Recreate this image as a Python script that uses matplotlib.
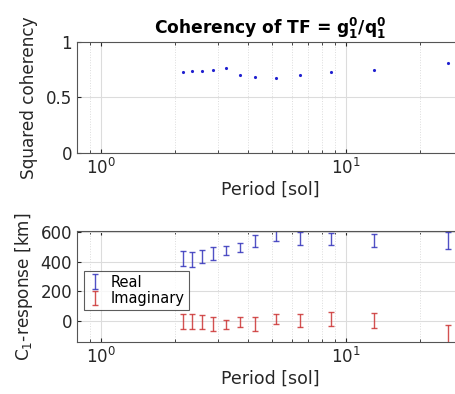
import matplotlib
matplotlib.use("Agg")
import matplotlib.pyplot as plt
import numpy as np

periods = [2.16, 2.36, 2.59, 2.88, 3.24, 3.70, 4.27, 5.19, 6.50, 8.67, 13.0, 26.0]
coherency = [0.73, 0.74, 0.74, 0.75, 0.77, 0.70, 0.685, 0.675, 0.707, 0.733, 0.752, 0.808]
real_vals = [420, 412, 435, 455, 475, 495, 535, 575, 555, 550, 540, 540]
real_err = [50, 50, 45, 45, 30, 30, 40, 35, 45, 40, 45, 55]
imag_vals = [0, -5, -5, -20, -25, -5, -20, 15, 5, 15, 5, -85]
imag_err = [50, 50, 45, 45, 30, 35, 45, 35, 45, 45, 50, 60]

plt.rcParams['font.family'] = ['DejaVu Sans']
fig = plt.figure(figsize=(4.56, 3.94), dpi=100)

axc = '#262626'
def style(ax):
    ax.set_xscale('log')
    ax.set_xlim(0.8, 30)
    ax.grid(True, which='major', color='#dcdcdc', linewidth=0.8)
    ax.grid(True, which='minor', axis='x', color='#dcdcdc', linestyle=':', linewidth=0.7)
    ax.set_axisbelow(True)
    ax.tick_params(which='both', direction='in', labelsize=12, colors=axc, top=True, right=True)
    ax.tick_params(which='major', length=3)
    ax.tick_params(which='minor', length=2)
    for s in ax.spines.values():
        s.set_color('#555555')
        s.set_linewidth(0.8)
    ax.set_xlabel('Period [sol]', fontsize=12.5, color=axc, labelpad=2)

ax1 = fig.add_axes([0.1689, 0.6117, 0.8465, 0.2817])
style(ax1)
ax1.plot(periods, coherency, linestyle='none', marker='.', markersize=2.5, color='#2020d0')
ax1.set_ylim(0, 1)
ax1.set_yticks([0, 0.5, 1])
ax1.set_yticklabels(['0', '0.5', '1'])
ax1.set_ylabel('Squared coherency', fontsize=12.2, color=axc, labelpad=6)
ax1.set_title(r'Coherency of TF = $\mathbf{g_1^0/q_1^0}$', fontsize=12.3, fontweight='bold', color='black')

ax2 = fig.add_axes([0.1689, 0.132, 0.8465, 0.2817])
style(ax2)
ax2.errorbar(periods, real_vals, yerr=real_err, fmt='none', ecolor='#3333bb', elinewidth=1.0, capsize=2.3, capthick=1.0, alpha=0.85, label='Real')
ax2.errorbar(periods, imag_vals, yerr=imag_err, fmt='none', ecolor='#cc3333', elinewidth=1.0, capsize=2.3, capthick=1.0, alpha=0.85, label='Imaginary')
ax2.set_ylim(-140, 605)
ax2.set_yticks([0, 200, 400, 600])
ax2.set_ylabel(r'C$_1$-response [km]', fontsize=12.2, color=axc)
leg = ax2.legend(loc='upper left', bbox_to_anchor=(0.018, 0.64), fontsize=10.5, frameon=True, fancybox=False,
                 edgecolor='#333333', borderpad=0.25, handlelength=1.0, handletextpad=0.6, labelspacing=0.1,
                 borderaxespad=0.0)
leg.get_frame().set_linewidth(0.8)

fig.savefig('out.png', dpi=100)
